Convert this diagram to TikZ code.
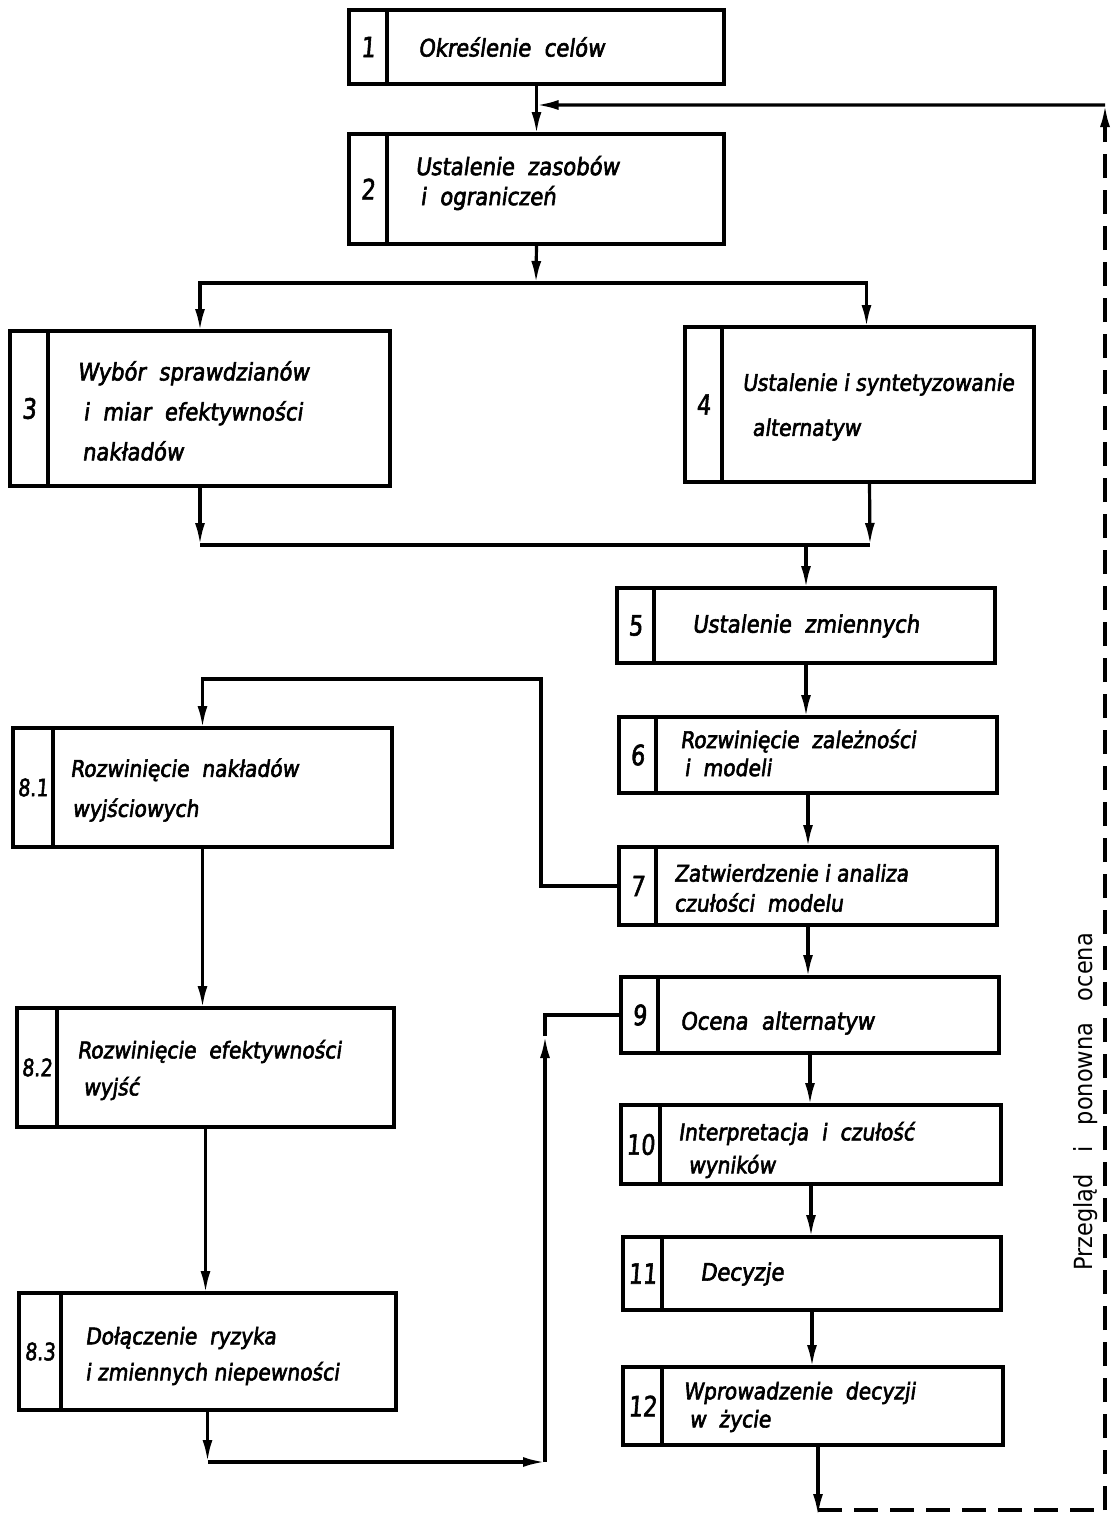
\documentclass[tikz,border=0pt]{standalone}
\usepackage{fontspec}
\setmainfont{DejaVu Sans}[FakeStretch=0.88, FakeSlant=0.14, FakeBold=2.5]
\newfontfamily\uprfont{DejaVu Sans}[FakeStretch=0.9]
\newfontfamily\numfont{DejaVu Sans}[FakeStretch=0.8, FakeSlant=0.08, FakeBold=2]
\usetikzlibrary{arrows.meta,calc,fit}

% one numbered step: name, x1, y1, x2, y2, divider x, number
\newcommand\flowbox[7]{%
  \coordinate (#1nw) at (#2,#3);
  \coordinate (#1se) at (#4,#5);
  \node[blk, fit=(#1nw)(#1se)] (#1) {};
  \draw[blk] (#6,#3) -- (#6,#5);
  \node[num] (#1n) at ($(#1nw)!0.5!(#6,#5)$) {#7};
}

\begin{document}
\begin{tikzpicture}[x=1pt,y=-1pt,
  blk/.style={draw, line width=4pt, inner sep=0pt, outer sep=0pt},
  lbl/.style={font=\fontsize{24}{34}\selectfont, align=left, anchor=west, inner sep=0pt},
  num/.style={font=\numfont\fontsize{28}{30}\selectfont, inner sep=0pt},
  link/.style={line width=3.2pt},
  tip/.style={-{Latex[length=22pt,width=10pt]}},
  back/.style={line width=3.2pt, dash pattern=on 24pt off 12pt}]
\useasboundingbox (0,0) rectangle (1116,1513);

% ---- steps ----
\flowbox{b1}{349}{10}{724}{84}{387}{1}
\flowbox{b2}{349}{134}{724}{244}{387}{2}
\flowbox{b3}{10}{331}{390}{486}{48}{3}
\flowbox{b4}{685}{327}{1034}{482}{722}{4}
\flowbox{b5}{617}{588}{995}{663}{654}{5}
\flowbox{b6}{619}{717}{997}{793}{656}{6}
\flowbox{b7}{619}{847}{997}{925}{656}{7}
\flowbox{b81}{13}{728}{392}{847}{53}{\fontsize{24}{26}\selectfont 8.1}
\flowbox{b82}{17}{1008}{394}{1127}{57}{\fontsize{24}{26}\selectfont 8.2}
\flowbox{b83}{19}{1293}{396}{1410}{61}{\fontsize{24}{26}\selectfont 8.3}
\flowbox{b9}{621}{977}{999}{1053}{658}{9}
\flowbox{b10}{621}{1105}{1001}{1184}{660}{10}
\flowbox{b11}{623}{1237}{1001}{1310}{662}{11}
\flowbox{b12}{623}{1367}{1003}{1445}{662}{12}

% ---- texts ----
\node[lbl] (t1) at (418,47) {Określenie\ \ celów};
\node[lbl, font=\fontsize{24}{30}\selectfont] (t2) at (415,183) {Ustalenie\ \ zasobów\\\hspace{5pt}i\ \ ograniczeń};
\node[lbl, font=\fontsize{24}{40}\selectfont] (t3) at (77,411) {Wybór\ \ sprawdzianów\\\hspace{6pt}i\ \ miar\ \ efektywności\\\hspace{5pt}nakładów};
\node[lbl, font=\fontsize{23}{45}\selectfont] (t4) at (742,407) {Ustalenie i syntetyzowanie\\\hspace{10pt}alternatyw};
\node[lbl] (t5) at (692,626) {Ustalenie\ \ zmiennych};
\node[lbl, font=\fontsize{23}{28}\selectfont] (t6) at (680,753) {Rozwinięcie\ \ zależności\\\hspace{4pt}i\ \ modeli};
\node[lbl, font=\fontsize{23}{30}\selectfont] (t7) at (674,888) {Zatwierdzenie i analiza\\czułości\ \ modelu};
\node[lbl, font=\fontsize{23}{40}\selectfont] (t81) at (70,790) {Rozwinięcie\ \ nakładów\\\hspace{2pt}wyjściowych};
\node[lbl, font=\fontsize{23}{37}\selectfont] (t82) at (77,1070) {Rozwinięcie\ \ efektywności\\\hspace{6pt}wyjść};
\node[lbl, font=\fontsize{23}{36}\selectfont] (t83) at (85,1356) {Dołączenie\ \ ryzyka\\i\ zmiennych\ niepewności};
\node[lbl] (t9) at (680,1023) {Ocena\ \ alternatyw};
\node[lbl, font=\fontsize{23}{33}\selectfont] (t10) at (678,1150) {Interpretacja\ \ i\ \ czułość\\\hspace{10pt}wyników};
\node[lbl] (t11) at (700,1274) {Decyzje};
\node[lbl, font=\fontsize{23}{28}\selectfont] (t12) at (683,1407) {Wprowadzenie\ \ decyzji\\\hspace{6pt}w\ \ życie};

\node[rotate=90, inner sep=0pt, font=\uprfont\fontsize{25}{28}\selectfont] (rev) at (1086,1102) {Przegląd\ \ \ i\ \ \ ponowna\ \ \ ocena};

% ---- junctions ----
\coordinate (j1) at ($(b1.south)!0.42!(b2.north)$);
\coordinate (s1) at (536,283);
\coordinate (m1) at (200,545);
\coordinate (m2) at (870,545);
\coordinate (c7) at (541,679);
\coordinate (d1) at (208,1462);
\coordinate (d2) at (545,1462);
\coordinate (d3) at (545,1036);
\coordinate (e1) at (818,1510);
\coordinate (e2) at (1105,1510);
\coordinate (e3) at (1105,105);

% ---- main flow ----
\draw[link,tip] (b1.south) -- (b2.north);
\draw[link,tip] (b2.south) -- (s1);
\draw[link,tip] (s1) -| (b3.north);
\draw[link,tip] (s1) -| ([xshift=7pt]b4.north);
\draw[link,tip] (b3.south) -- (m1);
\draw[link,tip] ([xshift=10pt]b4.south) -- (m2);
\draw[link] (m1) -- (m2);
\draw[link,tip] (b5.north |- m1) -- (b5.north);
\draw[link,tip] (b5.south) -- (b5.south |- b6.north);
\draw[link,tip] (b6.south) -- (b6.south |- b7.north);
\draw[link,tip] (b7.south) -- (b7.south |- b9.north);
\draw[link,tip] (b9.south) -- (b9.south |- b10.north);
\draw[link,tip] (b10.south) -- (b10.south |- b11.north);
\draw[link,tip] (b11.south) -- (b11.south |- b12.north);

% ---- side branch 8.1 - 8.3 ----
\draw[link,tip] (b7.west) -| (c7) -| (b81.north);
\draw[link,tip] (b81.south) -- (b81.south |- b82.north);
\draw[link,tip] (b82.south) -- (b82.south |- b83.north);
\draw[link,tip] (b83.south) -- (b83.south |- d1);
\draw[link,tip] (b83.south |- d1) -- (d2);
\draw[link,tip] (d2) -- (d3);
\draw[link] (d3) |- (b9.west);

% ---- review loop ----
\draw[link,tip] ([xshift=5pt]b12.south) -- ([yshift=-6pt]e1);
\draw[back] (e1) -- (e2);
\draw[back,tip] (e2) -- (e3);
\draw[link,tip] (e3) -- (j1);
\end{tikzpicture}
\end{document}
